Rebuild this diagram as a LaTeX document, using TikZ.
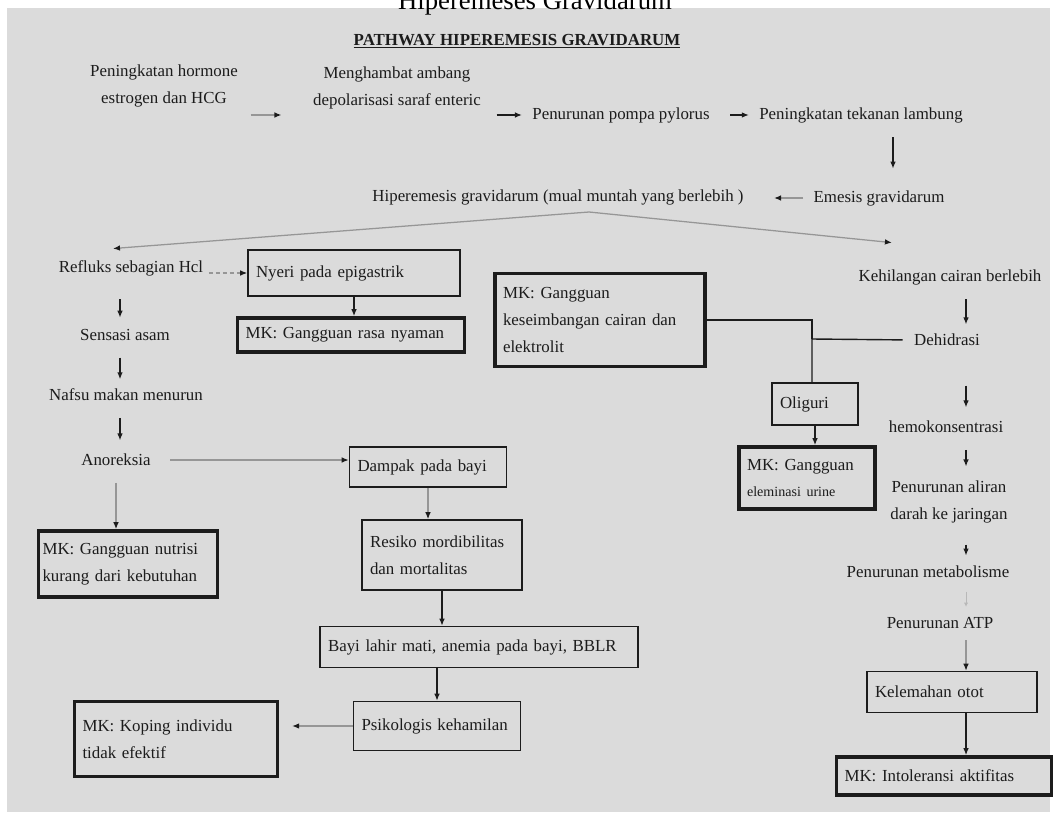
\documentclass[tikz,border=0pt]{standalone}
\usepackage{fontspec}
\setmainfont{Liberation Serif}
\usetikzlibrary{calc,arrows.meta}
\definecolor{paper}{RGB}{219,219,219}
\definecolor{ink}{RGB}{28,28,28}
\definecolor{faint}{RGB}{150,150,150}
\tikzset{
	txt/.style={text=ink, inner sep=1pt, align=center, font=\fontsize{12}{19}\selectfont},
	tbox/.style 2 args={draw=ink, line width=1.1pt, text=ink, inner xsep=0pt, inner ysep=0pt, minimum width=#1*0.025cm, minimum height=#2*0.025cm, text width=(#1-16)*0.025cm, align=left, font=\fontsize{12}{19}\selectfont},
	mkbox/.style 2 args={tbox={#1}{#2}, line width=2.6pt},
	arr/.style={draw=ink, -{Latex[length=5pt,width=4pt]}, line width=0.9pt},
	garr/.style={draw=faint, -{Latex[length=5pt,width=4pt,color=ink]}, line width=0.9pt},
	link/.style={draw=ink, line width=1pt},
}
\begin{document}
\begin{tikzpicture}[x=0.025cm, y=-0.025cm]
	\useasboundingbox (0,0) rectangle (1057,814);
	\fill[paper] (7,8) rectangle (1050,812);
	\node[text=black, anchor=base, font=\fontsize{19}{22}\selectfont] (caption) at (535,10) {Hiperemeses Gravidarum};
	\node[txt, font=\fontsize{12}{14}\selectfont\bfseries] (judul) at (517,41) {\underline{PATHWAY HIPEREMESIS GRAVIDARUM}};

	\coordinate (lcol) at (120,0);
	\coordinate (tcol) at (893,0);
	\coordinate (rcol) at (966,0);
	\coordinate (jn) at (812,339);
	\coordinate (split) at (589,212);

	\node[txt] (horm) at (164,86) {Peningkatan hormone\\estrogen dan HCG};
	\node[txt] (ambang) at (397,88) {Menghambat ambang\\depolarisasi saraf enteric};
	\node[txt] (pylor) at (621,115) {Penurunan pompa pylorus};
	\node[txt] (tekanan) at (861,115) {Peningkatan tekanan lambung};
	\node[txt] (emesis) at (879,198) {Emesis gravidarum};
	\node[txt] (hiper) at (558,197) {Hiperemesis gravidarum (mual muntah yang berlebih )};

	\node[txt] (refluks) at (131,268) {Refluks sebagian Hcl};
	\node[txt] (sensasi) at (125,335) {Sensasi asam};
	\node[txt] (nafsu) at (126,395) {Nafsu makan menurun};
	\node[txt] (anoreksia) at (116,460) {Anoreksia};

	\node[tbox={212}{46}] (nyeri) at (354,273) {Nyeri pada epigastrik};
	\node[mkbox={227}{34}] (mknyaman) at (351,335) {MK: Gangguan rasa nyaman};
	\node[mkbox={179}{66}, text width=171*0.025cm] (mknutrisi) at (128,564) {MK: Gangguan nutrisi\\kurang dari kebutuhan};
	\node[tbox={157}{40}] (dampak) at (428,467) {Dampak pada bayi};
	\node[tbox={160}{70}] (resiko) at (442,555) {Resiko mordibilitas\\dan mortalitas};
	\node[tbox={318}{41}] (bayi) at (479,647) {Bayi lahir mati, anemia pada bayi, BBLR};
	\node[tbox={167}{49}] (psiko) at (437,726) {Psikologis kehamilan};
	\node[mkbox={203}{75}] (koping) at (176,739) {MK: Koping individu\\tidak efektif};

	\node[mkbox={210}{93}] (mkcairan) at (600,320) {MK: Gangguan\\keseimbangan cairan dan\\elektrolit};
	\node[tbox={86}{42}] (oliguri) at (815,404) {Oliguri};
	\node[mkbox={136}{62}] (mkurine) at (807,478) {MK: Gangguan\\{\fontsize{10}{12}\selectfont eleminasi urine}};

	\node[txt] (kehil) at (950,277) {Kehilangan cairan berlebih};
	\node[txt] (dehid) at (947,340) {Dehidrasi};
	\node[txt] (hemo) at (946,427) {hemokonsentrasi};
	\node[txt] (aliran) at (949,502) {Penurunan aliran\\darah ke jaringan};
	\node[txt] (metab) at (928,572) {Penurunan metabolisme};
	\node[txt] (atp) at (940,623) {Penurunan ATP};
	\node[tbox={170}{41}] (otot) at (952,692) {Kelemahan otot};
	\node[mkbox={215}{38}] (mkaktif) at (944,776) {MK: Intoleransi aktifitas};

	\draw[garr, shorten <=0.28cm, shorten >=0.75cm] (horm.east |- pylor.west) -- (ambang.west |- pylor.west);
	\draw[arr, shorten <=0.35cm, shorten >=0.22cm] (ambang.east |- pylor.west) -- (pylor.west);
	\draw[arr, shorten <=0.48cm, shorten >=0.22cm] (pylor.east) -- (tekanan.west);
	\draw[arr, shorten <=0.32cm, shorten >=0.5cm] (tekanan.south -| tcol) -- (emesis.north -| tcol);
	\draw[garr, shorten <=0.22cm, shorten >=0.72cm] (emesis.west) -- (emesis.west -| hiper.east);
	\draw[garr] (split) -- ($(refluks.north)+(-18,-10)$);
	\draw[garr] (split) -- ($(kehil.north west)+(35,-25)$);

	\draw[arr, shorten <=0.55cm, shorten >=0.25cm] (refluks.south -| lcol) -- (sensasi.north -| lcol);
	\draw[arr, shorten <=0.38cm, shorten >=0.2cm] (sensasi.south -| lcol) -- (nafsu.north -| lcol);
	\draw[arr, shorten <=0.38cm, shorten >=0.3cm] (nafsu.south -| lcol) -- (anoreksia.north -| lcol);
	\draw[garr, densely dashed, shorten <=0.1cm] (refluks.east |- nyeri.west) -- (nyeri.west);
	\draw[garr, shorten <=0.45cm] (anoreksia.east) -- (anoreksia.east -| dampak.west);
	\draw[garr, shorten <=0.38cm] (anoreksia.south) -- (anoreksia.south |- mknutrisi.north);
	\draw[arr] (nyeri.south) -- (nyeri.south |- mknyaman.north);
	\draw[garr] (dampak.south) -- (dampak.south |- resiko.north);
	\draw[arr] (resiko.south) -- (resiko.south |- bayi.north);
	\draw[arr] (psiko.north |- bayi.south) -- (psiko.north);
	\draw[garr, shorten >=0.32cm] (psiko.west) -- (psiko.west -| koping.east);

	\draw[link, shorten <=0.25cm] (dehid.west) -- (jn) -- (jn |- oliguri.north);
	\draw[link] (mkcairan.east) -- (mkcairan.east -| jn) -- (jn);
	\draw[arr] (oliguri.south) -- (oliguri.south |- mkurine.north);
	\draw[arr, shorten <=0.32cm, shorten >=0.2cm] (kehil.south -| rcol) -- (dehid.north -| rcol);
	\draw[arr, shorten <=0.95cm, shorten >=0.3cm] (dehid.south -| rcol) -- (hemo.north -| rcol);
	\draw[arr, shorten <=0.38cm, shorten >=0.32cm] (hemo.south -| rcol) -- (aliran.north -| rcol);
	\draw[arr, shorten <=0.5cm, shorten >=0.22cm] (aliran.south -| rcol) -- (metab.north -| rcol);
	\draw[draw=faint!50!paper, -{Latex[length=3pt,width=3pt]}, line width=0.6pt, shorten <=0.3cm, shorten >=0.22cm] (metab.south -| rcol) -- (atp.north -| rcol);
	\draw[garr, shorten <=0.25cm] (atp.south -| rcol) -- (otot.north -| rcol);
	\draw[arr] (otot.south -| rcol) -- (mkaktif.north -| rcol);
\end{tikzpicture}
\end{document}
